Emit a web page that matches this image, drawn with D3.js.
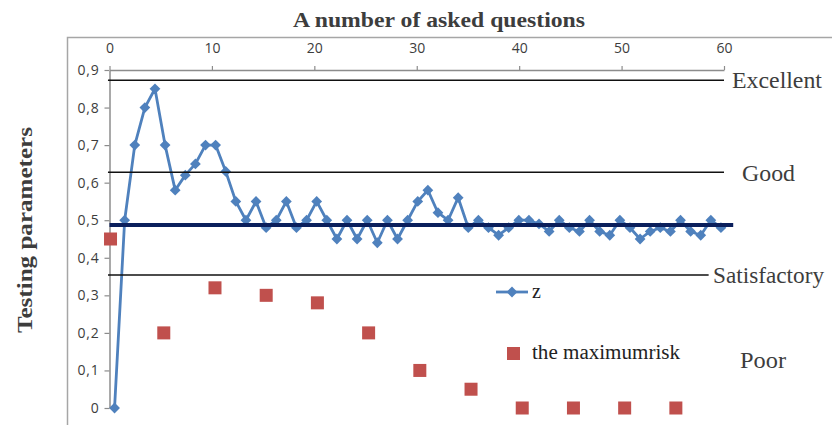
<!DOCTYPE html>
<html lang="en">
<head>
<meta charset="UTF-8">
<script src="https://cdn.jsdelivr.net/npm/d3@7/dist/d3.min.js"></script>
<title>A number of asked questions</title>
<style>
  body { margin: 0; background: #fff; }
  svg { display: block; }
</style>
</head>
<body>
<svg id="vis" width="832" height="425"></svg>
<script>
// data
var zValues = [0, 0.5, 0.7, 0.8, 0.85, 0.7, 0.58, 0.62, 0.65, 0.7, 0.7, 0.63, 0.55, 0.5, 0.55,
  0.48, 0.5, 0.55, 0.48, 0.5, 0.55, 0.5, 0.45, 0.5, 0.45, 0.5, 0.44, 0.5, 0.45, 0.5,
  0.55, 0.58, 0.52, 0.5, 0.56, 0.48, 0.5, 0.48, 0.46, 0.48, 0.5, 0.5, 0.49, 0.47, 0.5,
  0.48, 0.47, 0.5, 0.47, 0.46, 0.5, 0.48, 0.45, 0.47, 0.48, 0.47, 0.5, 0.47, 0.46, 0.5, 0.48];
var riskX = [0.1, 5.3, 10.3, 15.3, 20.3, 25.3, 30.3, 35.3, 40.3, 45.3, 50.3, 55.3];
var riskValues = [0.45, 0.2, 0.32, 0.3, 0.28, 0.2, 0.1, 0.05, 0, 0, 0, 0];
var xTicks = [0, 10, 20, 30, 40, 50, 60];
var yTicks = [0, 0.1, 0.2, 0.3, 0.4, 0.5, 0.6, 0.7, 0.8, 0.9];
var levelNames = ["Excellent", "Good", "Satisfactory"];
var levelValues = [0.873, 0.628, 0.354];
var levelEnds = [60, 60, 58.5];
var meanValue = 0.487;

var svg = d3.select("#vis");
var serif = "'Liberation Serif', 'DejaVu Serif', serif";
var sans = "'Open Sans', Lato, sans-serif";
var ink = "#3d3d3d";

// scales
var x = d3.scaleLinear().domain([0, 60]).range([109.5, 724]);
var y = d3.scaleLinear().domain([0, 0.9]).range([408, 70]);
var xCat = d3.scaleBand().domain(zValues.map(function(d, i){ return i; })).range([109.5, 726]);

// plot frame (left and top)
svg.append("path").attr("d", "M67.5,425V37.5H832")
  .attr("fill", "none").attr("stroke", "#a6a6a6").attr("stroke-width", 1.5);

// titles
svg.append("text").attr("x", 293).attr("y", 27)
  .attr("textLength", 292).attr("lengthAdjust", "spacingAndGlyphs")
  .attr("font-family", serif).attr("font-weight", "bold").attr("font-size", 22)
  .attr("fill", ink).text("A number of asked questions");

svg.append("text").attr("transform", "translate(32,333) rotate(-90)")
  .attr("textLength", 206).attr("lengthAdjust", "spacingAndGlyphs")
  .attr("font-family", serif).attr("font-weight", "bold").attr("font-size", 22)
  .attr("fill", ink).text("Testing parameters");

// axes
var gx = svg.append("g").attr("transform", "translate(0," + y(0.9) + ")")
  .call(d3.axisTop(x).tickValues(xTicks).tickSizeInner(4).tickSizeOuter(0).tickPadding(13));
var gy = svg.append("g").attr("transform", "translate(" + x(0) + ",0)")
  .call(d3.axisLeft(y).tickValues(yTicks).tickSizeInner(5).tickSizeOuter(0).tickPadding(5)
    .tickFormat(function(d){ return d3.format(".1f")(d).replace(".", ",").replace(/^0,0$/, "0"); }));
[gx, gy].forEach(function(g){
  g.select(".domain").attr("stroke", "#8c8c8c").attr("stroke-width", 1.5);
  g.selectAll(".tick line").attr("stroke", "#8c8c8c").attr("stroke-width", 1.2);
  g.selectAll(".tick text").attr("font-family", sans).attr("font-size", 14).attr("fill", ink);
});
gy.selectAll(".tick text").attr("letter-spacing", 0.8);

// z series
var zLine = d3.line()
  .x(function(d, i){ return xCat(i) + xCat.bandwidth() / 2; })
  .y(function(d){ return y(d); });
svg.append("path").datum(zValues).attr("d", zLine)
  .attr("fill", "none").attr("stroke", "#4f81bd").attr("stroke-width", 2.8)
  .attr("stroke-linejoin", "round");
var diamond = d3.symbol().type(d3.symbolSquare).size(58);
svg.append("g").selectAll("path").data(zValues).join("path")
  .attr("d", diamond)
  .attr("transform", function(d, i){
    return "translate(" + (xCat(i) + xCat.bandwidth() / 2) + "," + y(d) + ") rotate(45)"; })
  .attr("fill", "#4f81bd");

// maximum risk
svg.append("g").selectAll("rect").data(riskValues).join("rect")
  .attr("x", function(d, i){ return x(riskX[i]) - 6.5; })
  .attr("y", function(d){ return y(d) - 6.5; })
  .attr("width", 13).attr("height", 13)
  .attr("fill", "#c0504d");

// level lines
levelValues.forEach(function(v, i){
  svg.append("line").attr("x1", x(-0.15)).attr("x2", x(levelEnds[i]))
    .attr("y1", y(v)).attr("y2", y(v))
    .attr("stroke", "#111").attr("stroke-width", 1.5);
});
svg.append("line").attr("x1", x(0)).attr("x2", x(60.9))
  .attr("y1", y(meanValue)).attr("y2", y(meanValue))
  .attr("stroke", "#0a1f5c").attr("stroke-width", 4);

// level labels: [left, baseline, width]
var labelPos = [[732, 88, 90], [742, 181, 53], [713, 283, 111], [740, 368, 46]];
levelNames.concat(["Poor"]).forEach(function(t, i){
  svg.append("text").attr("x", labelPos[i][0]).attr("y", labelPos[i][1])
    .attr("textLength", labelPos[i][2]).attr("lengthAdjust", "spacingAndGlyphs")
    .attr("font-family", serif).attr("font-size", 23).attr("fill", ink).text(t);
});

// legend
var lg = svg.append("g");
lg.append("line").attr("x1", 496).attr("x2", 528).attr("y1", 292).attr("y2", 292)
  .attr("stroke", "#4f81bd").attr("stroke-width", 2.8);
lg.append("path").attr("d", diamond).attr("transform", "translate(512,292) rotate(45)")
  .attr("fill", "#4f81bd");
lg.append("text").attr("x", 532).attr("y", 298)
  .attr("font-family", serif).attr("font-size", 20).attr("fill", "#222").text("z");
lg.append("rect").attr("x", 507).attr("y", 347).attr("width", 13).attr("height", 13)
  .attr("fill", "#c0504d");
lg.append("text").attr("x", 532).attr("y", 359)
  .attr("textLength", 148).attr("lengthAdjust", "spacingAndGlyphs")
  .attr("font-family", serif).attr("font-size", 20).attr("fill", "#222").text("the maximumrisk");
</script>
</body>
</html>
